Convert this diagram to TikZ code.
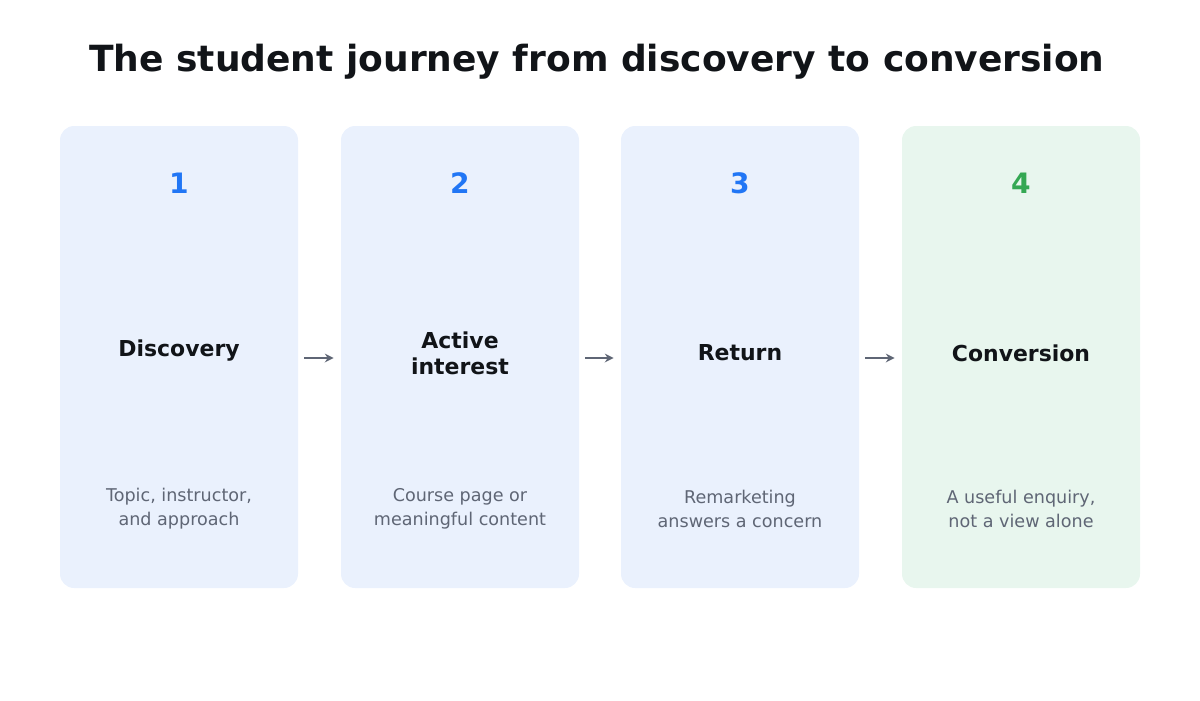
\documentclass[tikz,border=0pt]{standalone}
\usepackage{fontspec}
\setmainfont{DejaVu Sans}
\usetikzlibrary{arrows.meta}
\definecolor{boxblue}{HTML}{EAF1FD}
\definecolor{boxgreen}{HTML}{E8F6EE}
\definecolor{numblue}{HTML}{2176F5}
\definecolor{numgreen}{HTML}{34A853}
\definecolor{desc}{HTML}{5F6675}
\definecolor{ink}{HTML}{111418}
\tikzset{
  card/.style={fill=#1, draw=none, rounded corners=8pt, minimum width=238*0.02cm, minimum height=462*0.02cm, inner sep=0pt},
  num/.style={text=#1, font=\bfseries\fontsize{16}{19}\selectfont},
  head/.style={text=ink, font=\bfseries\fontsize{12.5}{15}\selectfont, align=center},
  note/.style={text=desc, font=\fontsize{10}{13.5}\selectfont, align=center},
  flow/.style={-{Stealth[length=5pt,width=5pt]}, draw=desc, line width=1.2pt}
}
\begin{document}
\begin{tikzpicture}[x=0.02cm,y=-0.02cm]
    \useasboundingbox (0,0) rectangle (1200,700);
    \node (title) [text=ink, font=\bfseries\fontsize{20.5}{24}\selectfont] at (597,62) {The student journey from discovery to conversion};
    % cards
    \node (b1) [card=boxblue] at (179,357) {};
    \node (b2) [card=boxblue] at (460,357) {};
    \node (b3) [card=boxblue] at (740,357) {};
    \node (b4) [card=boxgreen] at (1021,357) {};
    \node (n1) [num=numblue] at (179,183) {1};
    \node (n2) [num=numblue] at (460,183) {2};
    \node (n3) [num=numblue] at (740,183) {3};
    \node (n4) [num=numgreen] at (1021,183) {4};
    \node (h1) [head] at (179,351) {Discovery};
    \node (h2) [head] at (460,353) {Active\\interest};
    \node (h3) [head] at (740,353) {Return};
    \node (h4) [head] at (1021,353) {Conversion};
    \node (d1) [note] at (179,509) {Topic, instructor,\\and approach};
    \node (d2) [note] at (460,509) {Course page or\\meaningful content};
    \node (d3) [note] at (740,509) {Remarketing\\answers a concern};
    \node (d4) [note] at (1021,509) {A useful enquiry,\\not a view alone};
    % arrows
    \draw [flow] ([xshift=6*0.02cm,yshift=-1*0.02cm]b1.east) -- ([xshift=-7*0.02cm,yshift=-1*0.02cm]b2.west);
    \draw [flow] ([xshift=6*0.02cm,yshift=-1*0.02cm]b2.east) -- ([xshift=-7*0.02cm,yshift=-1*0.02cm]b3.west);
    \draw [flow] ([xshift=6*0.02cm,yshift=-1*0.02cm]b3.east) -- ([xshift=-7*0.02cm,yshift=-1*0.02cm]b4.west);
\end{tikzpicture}
\end{document}
